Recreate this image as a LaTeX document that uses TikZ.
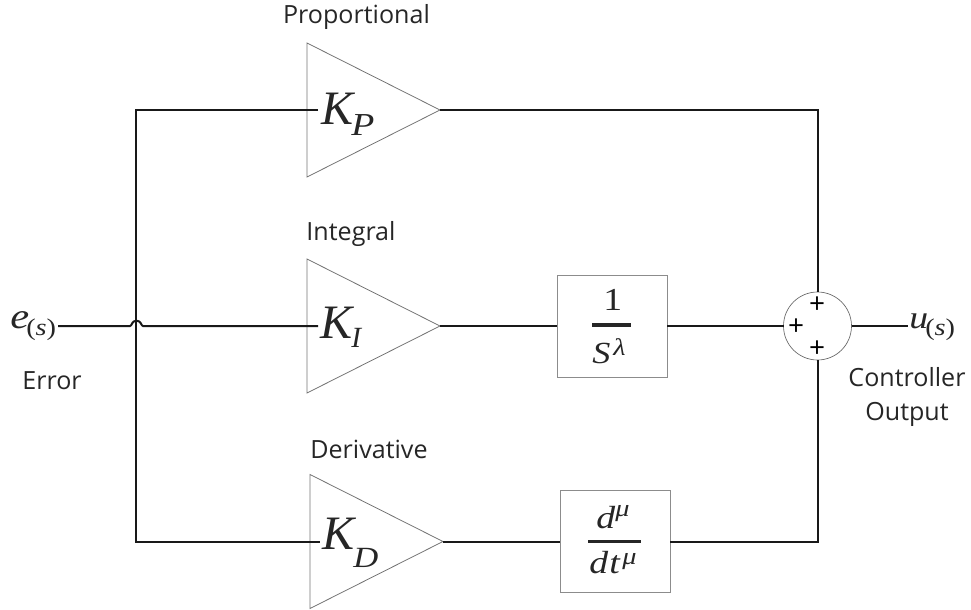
\documentclass[tikz,border=0pt]{standalone}
\usepackage{fontspec}
\usetikzlibrary{shapes.geometric}
\setmainfont{Open Sans}
\newfontfamily\mf{Liberation Serif}[Ligatures=TeX]
\newfontfamily\mw{Liberation Serif}[Ligatures=TeX,FakeStretch=1.18]
\newcommand{\Mi}[2]{{\fontsize{#1}{#1}\selectfont\mf\itshape #2}}
\newcommand{\Wi}[2]{{\fontsize{#1}{#1}\selectfont\mw\itshape #2}}
\newcommand{\Wr}[2]{{\fontsize{#1}{#1}\selectfont\mw #2}}
\tikzset{
 x=0.75pt,y=-0.75pt,
 wire/.style={draw=black!90,line width=1.5pt},
 amp/.style={isosceles triangle,isosceles triangle stretches,draw=black!55,line width=0.6pt,minimum width=134*0.75pt,minimum height=133*0.75pt,inner sep=0pt,outer sep=0pt,anchor=apex},
 blockbox/.style={draw=black!45,line width=0.7pt,fill=white,inner sep=0pt,outer sep=0pt,minimum width=82.5pt,minimum height=76.5pt},
 lbl/.style={font=\fontsize{18.8}{26}\selectfont,inner sep=0pt,align=center,text=black!85},
 mth/.style={inner sep=0pt,text=black!85,anchor=base west},
 bar/.style={fill=black!85,inner sep=0pt,minimum height=2.8pt},
 plus/.style={inner sep=0pt,font=\fontsize{21}{21}\selectfont,text=black}
}
\begin{document}
\begin{tikzpicture}
\useasboundingbox (0,0) rectangle (971,610);
\node[amp] (ap) at (440,110) {};
\node[amp] (ai) at (440,326) {};
\node[amp] (ad) at (443,541.5) {};
\node[blockbox] (b1) at (612,326) {};
\node[blockbox] (b2) at (615,541.5) {};
\node[circle,draw=black!60,line width=0.5pt,minimum size=68*0.75pt,inner sep=0pt,outer sep=0pt] (sum) at (817.5,326) {};
% labels
\node[lbl] (tp) at (356.5,17) {Proportional};
\node[lbl] (ti) at (351,234) {Integral};
\node[lbl] (td) at (369,449) {Derivative};
\node[lbl] (te) at (52,381) {Error};
\node[lbl] (tc) at (907,397) {Controller\\Output};
% math
\node[mth] (kp) at (321,124) {\Mi{36}{K}};
\node[mth] (kps) at (351,135) {\Wi{24}{P}};
\node[mth] (ki) at (320,338) {\Mi{36}{K}};
\node[mth] (kis) at (351,347) {\Mi{22}{I}};
\node[mth] (kd) at (322,549) {\Mi{36}{K}};
\node[mth] (kds) at (353,567) {\Wi{22}{D}};
\node[mth] (e) at (10,328) {\Wi{27}{e}};
\node[mth] (es) at (26,335) {\Wr{18}{(}\Wi{18}{s}\Wr{18}{)}};
\node[mth] (u) at (909,328) {\Wi{24}{u}};
\node[mth] (us) at (925,335) {\Wr{18}{(}\Wi{18}{s}\Wr{18}{)}};
\node[mth] (n1) at (603,310) {\Wr{24}{1}};
\node[bar,minimum width=29pt] (f1) at (611.5,325) {};
\node[mth] (d1) at (592,363) {\Wi{23}{S}};
\node[mth] (d1s) at (613,355) {\Wi{18}{λ}};
\node[mth] (n2) at (596,528) {\Wi{24}{d}};
\node[mth] (n2s) at (615,516) {\Wi{18}{μ}};
\node[bar,minimum width=40pt] (f2) at (614.5,541.5) {};
\node[mth] (d2) at (589,573) {\Wi{24}{d\kern1pt t}};
\node[mth] (d2s) at (622,564) {\Wi{18}{μ}};
\node[plus] (pa) at (817,305) {+};
\node[plus] (pb) at (796,327) {+};
\node[plus] (pc) at (817,349) {+};
% wires
\coordinate (j) at (136,110);
\coordinate (jb) at (136,541.5);
\coordinate (ein) at (58,326);
\coordinate (ip) at (318,110);
\coordinate (ii) at (318,326);
\coordinate (id) at (320,541.5);
\coordinate (jl) at (130,326);
\coordinate (jr) at (143,326);
\coordinate (oe) at (908,326);
\coordinate (rt) at (817.5,110);
\coordinate (rb) at (817.5,541.5);
\draw[wire] (ein) -- (jl) .. controls (132,326) and (131.5,320.7) .. (136.5,320.7) .. controls (141.5,320.7) and (141,326) .. (jr) -- (ii);
\draw[wire,line join=miter] (ip) -- (j) -- (jb) -- (id);
\draw[wire,line join=miter] (ap.apex) -- (rt) -- (sum.north);
\draw[wire,line join=miter] (b2.east) -- (rb) -- (sum.south);
\draw[wire] (ai.apex) -- (b1.west);
\draw[wire] (ad.apex) -- (b2.west);
\draw[wire] (b1.east) -- (sum.west);
\draw[wire] (sum.east) -- (oe);
\end{tikzpicture}
\end{document}
